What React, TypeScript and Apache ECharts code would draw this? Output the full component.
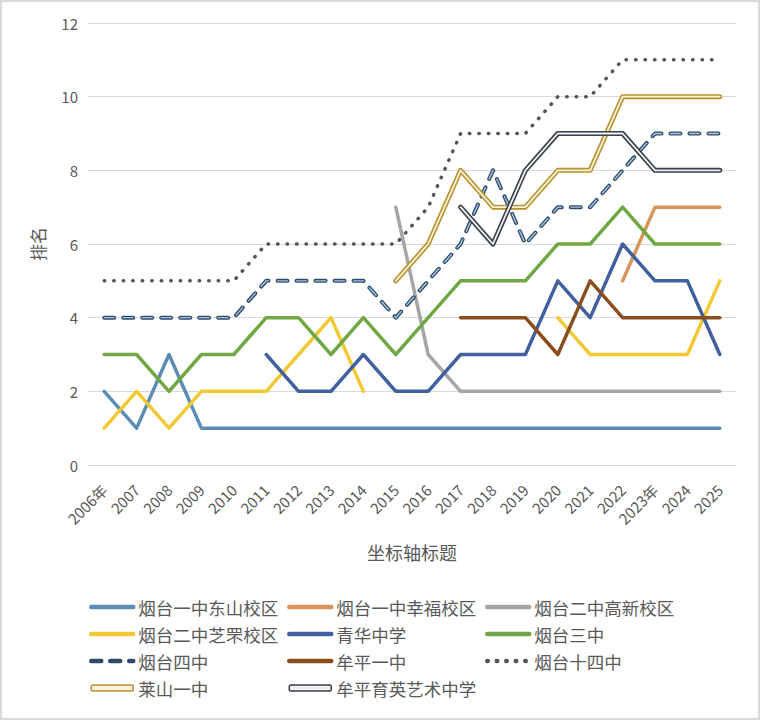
import React, { useEffect, useRef } from 'react';
import * as echarts from 'echarts';

const years = ['2006年', '2007', '2008', '2009', '2010', '2011', '2012', '2013', '2014', '2015', '2016', '2017', '2018', '2019', '2020', '2021', '2022', '2023年', '2024', '2025'];

const dongshan = [2, 1, 3, 1, 1, 1, 1, 1, 1, 1, 1, 1, 1, 1, 1, 1, 1, 1, 1, 1];
const xingfu = [null, null, null, null, null, null, null, null, null, null, null, null, null, null, null, null, 5, 7, 7, 7];
const gaoxin = [null, null, null, null, null, null, null, null, null, 7, 3, 2, 2, 2, 2, 2, 2, 2, 2, 2];
const zhifu = [1, 2, 1, 2, 2, 2, 3, 4, 2, null, null, null, null, null, 4, 3, 3, 3, 3, 5];
const qinghua = [null, null, null, null, null, 3, 2, 2, 3, 2, 2, 3, 3, 3, 5, 4, 6, 5, 5, 3];
const sanzhong = [3, 3, 2, 3, 3, 4, 4, 3, 4, 3, 4, 5, 5, 5, 6, 6, 7, 6, 6, 6];
const sizhong = [4, 4, 4, 4, 4, 5, 5, 5, 5, 4, 5, 6, 8, 6, 7, 7, 8, 9, 9, 9];
const mupingyi = [null, null, null, null, null, null, null, null, null, null, null, 4, 4, 4, 3, 5, 4, 4, 4, 4];
const shisizhong = [5, 5, 5, 5, 5, 6, 6, 6, 6, 6, 7, 9, 9, 9, 10, 10, 11, 11, 11, 11];
const laishan = [null, null, null, null, null, null, null, null, null, 5, 6, 8, 7, 7, 8, 8, 10, 10, 10, 10];
const yuying = [null, null, null, null, null, null, null, null, null, null, null, 7, 6, 8, 9, 9, 9, 8, 8, 8];

const yTicks = { min: 0, max: 12, interval: 2 };

const legendCol1 = ['烟台一中东山校区', '烟台二中芝罘校区', '烟台四中', '莱山一中'];
const legendCol2 = ['烟台一中幸福校区', '青华中学', '牟平一中', '牟平育英艺术中学'];
const legendCol3 = ['烟台二中高新校区', '烟台三中', '烟台十四中'];

export default function App() {
  const ref = useRef<HTMLDivElement>(null);
  useEffect(() => {
    const chart = echarts.init(ref.current!, null, { renderer: 'svg' });
    const font = '"Noto Sans CJK SC", "Noto Sans", sans-serif';
    const grey = '#595959';

    const line = (name: string, data: any[], color: string, width = 3.5, extra: any = {}) => ({
      type: 'line',
      name,
      data,
      symbol: 'none',
      showSymbol: false,
      connectNulls: false,
      silent: true,
      itemStyle: { color },
      lineStyle: { color, width, cap: 'round', join: 'round', ...extra },
      emphasis: { disabled: true },
    });

    const colors = {
      dongshan: '#5b8db5',
      xingfu: '#d8955a',
      gaoxin: '#a5a5a5',
      zhifu: '#f2c935',
      qinghua: '#41609e',
      sanzhong: '#70a845',
      sizhongOut: '#2f4b6a',
      sizhongIn: '#a7c4de',
      muping: '#8a4d1c',
      shisi: '#555555',
      laishanOut: '#b8922e',
      laishanIn: '#fbf3dc',
      yuyingOut: '#3a3f48',
      yuyingIn: '#eef0f4',
    };

    const legendBase = {
      orient: 'vertical',
      top: 597,
      padding: 0,
      itemWidth: 42,
      itemHeight: 6,
      itemGap: 7,
      selectedMode: false,
      itemStyle: { opacity: 0 },
      textStyle: { fontFamily: font, fontSize: 17.5, color: grey, lineHeight: 20 },
      lineStyle: { width: 4.5 },
    };

    const legendItem = (name: string) => {
      if (name === '莱山一中') {
        return { name, icon: 'roundRect', itemStyle: { opacity: 1, color: colors.laishanIn, borderColor: colors.laishanOut, borderWidth: 1.5 } };
      }
      if (name === '牟平育英艺术中学') {
        return { name, icon: 'roundRect', itemStyle: { opacity: 1, color: colors.yuyingIn, borderColor: colors.yuyingOut, borderWidth: 1.5 } };
      }
      return { name };
    };

    chart.setOption({
      animation: false,
      backgroundColor: '#ffffff',
      graphic: [
        {
          type: 'rect',
          shape: { x: 1, y: 1, width: 758, height: 718 },
          style: { fill: 'none', stroke: '#d9d9d9', lineWidth: 2 },
          silent: true,
        },
      ],
      grid: { left: 88, right: 24, top: 23, bottom: 255 },
      xAxis: {
        type: 'category',
        data: years,
        boundaryGap: true,
        name: '坐标轴标题',
        nameLocation: 'middle',
        nameGap: 78,
        nameTextStyle: { fontFamily: font, fontSize: 18, color: grey },
        axisLine: { lineStyle: { color: '#d9d9d9', width: 1 } },
        axisTick: { alignWithLabel: true, length: 5, lineStyle: { color: '#d9d9d9' } },
        axisLabel: { interval: 0, rotate: 45, fontFamily: font, fontSize: 15, color: grey, margin: 22 },
        splitLine: { show: false },
      },
      yAxis: {
        type: 'value',
        min: yTicks.min,
        max: yTicks.max,
        interval: yTicks.interval,
        name: '排名',
        nameLocation: 'middle',
        nameGap: 42,
        nameTextStyle: { fontFamily: font, fontSize: 17, color: grey },
        axisLine: { show: false },
        axisTick: { show: false },
        axisLabel: { fontFamily: font, fontSize: 15, color: grey, margin: 10 },
        splitLine: { lineStyle: { color: '#d9d9d9', width: 1 } },
      },
      legend: [
        { ...legendBase, left: 89, data: legendCol1.map(legendItem) },
        { ...legendBase, left: 287, data: legendCol2.map(legendItem) },
        { ...legendBase, left: 485, data: legendCol3.map(legendItem) },
      ],
      series: [
        line('烟台一中东山校区', dongshan, colors.dongshan),
        line('烟台一中幸福校区', xingfu, colors.xingfu),
        line('烟台二中高新校区', gaoxin, colors.gaoxin),
        line('烟台二中芝罘校区', zhifu, colors.zhifu),
        line('青华中学', qinghua, colors.qinghua),
        line('烟台三中', sanzhong, colors.sanzhong),
        line('烟台四中', sizhong, colors.sizhongOut, 4, { type: [10, 9] }),
        line('烟台四中', sizhong, colors.sizhongIn, 1.4, { type: [10, 9] }),
        line('牟平一中', mupingyi, colors.muping),
        line('烟台十四中', shisizhong, colors.shisi, 3.5, { type: [0.5, 9] }),
        line('莱山一中', laishan, colors.laishanOut, 5),
        line('莱山一中', laishan, colors.laishanIn, 1.8),
        line('牟平育英艺术中学', yuying, colors.yuyingOut, 5),
        line('牟平育英艺术中学', yuying, colors.yuyingIn, 1.8),
      ],
    });
    return () => chart.dispose();
  }, []);

  return <div ref={ref} style={{ position: 'fixed', left: 0, top: 0, width: 760, height: 720 }} />;
}
